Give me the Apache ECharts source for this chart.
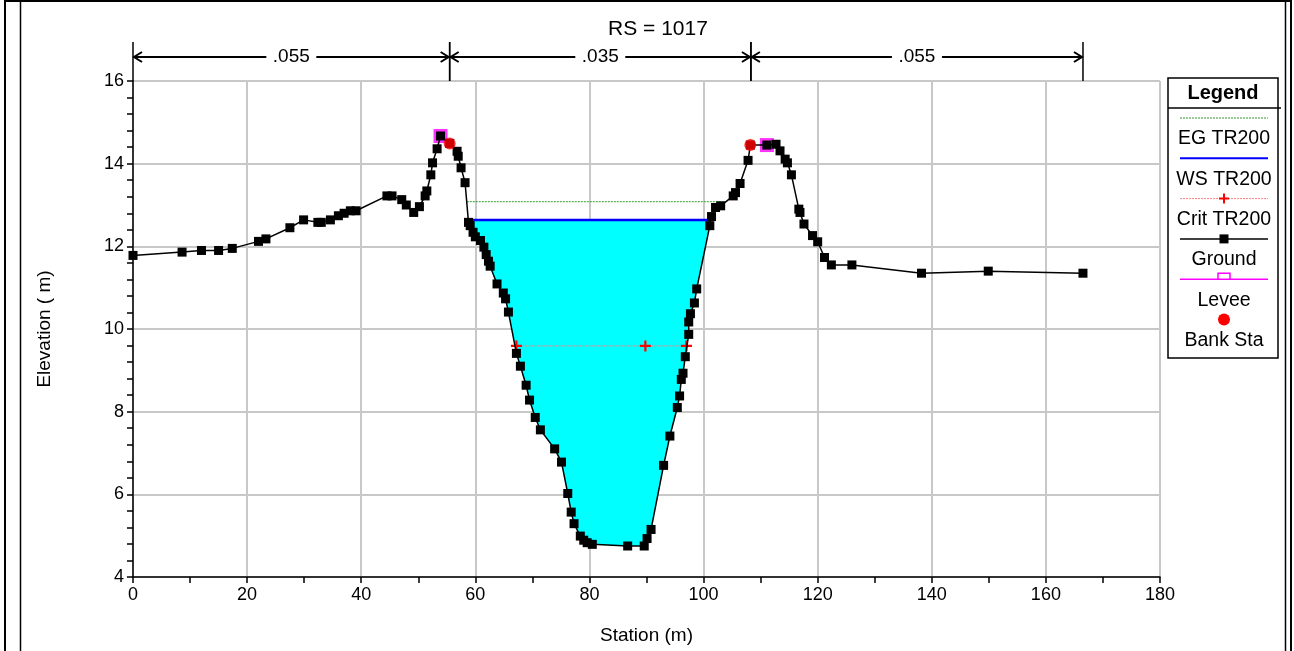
<!DOCTYPE html>
<html>
<head>
<meta charset="utf-8">
<title>RS = 1017</title>
<script src="https://cdn.jsdelivr.net/npm/echarts@6/dist/echarts.min.js"></script>
<style>
html, body { margin: 0; padding: 0; background: #fff; }
#chart { width: 1294px; height: 651px; }
</style>
</head>
<body>
<div id="chart"></div>
<script>
// ground survey (station m, elevation m)
const groundX = [0, 8.6, 12.0, 15.0, 17.4, 22.0, 23.3, 27.5, 29.9, 32.4, 33.0, 34.6, 36.0, 37.0, 38.1, 39.1,
  44.5, 45.4, 47.1, 47.9, 49.2, 50.2, 51.2, 51.5, 52.2, 52.5, 53.3, 53.9, 55.5, 56.8, 57.0, 57.5, 58.2,
  58.8, 59.1, 59.6, 60.0, 60.9, 61.5, 61.9, 62.3, 62.6, 63.8, 64.9, 65.3, 65.8, 67.2, 67.9, 68.9, 69.5,
  70.5, 71.4, 73.9, 75.1, 76.2, 76.8, 77.3, 78.4, 79.0, 79.6, 80.5, 86.7, 89.6, 90.1, 90.8, 93.0, 94.1,
  95.4, 95.8, 96.1, 96.4, 96.8, 97.4, 97.4, 97.7, 98.4, 98.8, 101.1, 101.4, 102.1, 103.0, 105.2, 105.6,
  106.4, 107.8, 108.2, 111.1, 112.7, 113.4, 114.3, 114.7, 115.4, 116.7, 116.9, 117.6, 119.1, 120.0,
  121.2, 122.4, 126.0, 138.2, 149.9, 166.5];
const groundY = [11.78, 11.86, 11.90, 11.90, 11.95, 12.12, 12.18, 12.45, 12.64, 12.58, 12.58, 12.64, 12.74, 12.80, 12.86, 12.86,
  13.22, 13.22, 13.13, 13.00, 12.82, 12.96, 13.22, 13.34, 13.73, 14.02, 14.36, 14.67, 14.49, 14.30, 14.18, 13.90, 13.54,
  12.58, 12.50, 12.34, 12.23, 12.14, 11.98, 11.80, 11.64, 11.52, 11.09, 10.87, 10.73, 10.41, 9.41, 9.10, 8.64, 8.28,
  7.86, 7.56, 7.10, 6.78, 6.02, 5.57, 5.29, 4.99, 4.89, 4.83, 4.79, 4.75, 4.75, 4.93, 5.15, 6.70, 7.41,
  8.10, 8.38, 8.78, 8.93, 9.33, 9.87, 10.17, 10.37, 10.63, 10.97, 12.50, 12.72, 12.94, 12.98, 13.22, 13.30,
  13.52, 14.08, 14.45, 14.45, 14.47, 14.31, 14.11, 14.02, 13.73, 12.90, 12.82, 12.54, 12.26, 12.11,
  11.73, 11.55, 11.55, 11.35, 11.40, 11.35];

const leveeX = [53.9, 111.1];
const leveeY = [14.67, 14.45];
const bankX = [55.5, 108.2];
const bankY = [14.49, 14.45];

const wsElev = 12.64;
const egElev = 13.08;
const egX = [58.5, 103.8];
const critElev = 9.59;
const critX = [67.2, 89.8, 97.0];

// manning n regions
const nBreaks = [0, 55.5, 108.3, 166.5];
const nValues = ['.055', '.035', '.055'];

const FONT = 'Liberation Sans, Arial, sans-serif';
const ground = groundX.map((x, i) => [x, groundY[i]]);

// wetted area of the main channel, between the bank stations
function waterPolygon() {
  const pts = ground.filter(p => p[0] >= bankX[0] && p[0] <= bankX[1]);
  const poly = [];
  for (let i = 1; i < pts.length; i++) {
    const a = pts[i - 1], b = pts[i];
    const aUnder = a[1] < wsElev, bUnder = b[1] < wsElev;
    if (aUnder !== bUnder) {
      const t = (wsElev - a[1]) / (b[1] - a[1]);
      poly.push([a[0] + t * (b[0] - a[0]), wsElev]);
    }
    if (bUnder) poly.push(b);
  }
  return poly;
}
const waterPts = waterPolygon();

const chart = echarts.init(document.getElementById('chart'));

const plusPath = 'path://M4,0H6V4H10V6H6V10H4V6H0V4H4Z';

function axisCommon() {
  return {
    nameLocation: 'middle',
    nameTextStyle: { fontSize: 19, color: '#000', fontFamily: FONT },
    axisLine: { onZero: false, lineStyle: { color: '#000', width: 1.5 } },
    axisTick: { length: 6, lineStyle: { color: '#000', width: 1.5 } },
    axisLabel: { fontSize: 18, color: '#000', fontFamily: FONT, margin: 9 },
    splitLine: { show: true, lineStyle: { color: '#c8c8c8', width: 2 } }
  };
}

// legend box, drawn by hand (symbol above text like the original)
const LX0 = 1168, LX1 = 1278, LCX = 1224;
const legendNames = ['EG TR200', 'WS TR200', 'Crit TR200', 'Ground', 'Levee', 'Bank Sta'];
const legendGraphics = [
  { type: 'rect', shape: { x: LX0, y: 78, width: LX1 - LX0, height: 280 }, style: { fill: '#fff', stroke: '#000', lineWidth: 1.5 } },
  { type: 'text', x: LX0 + (LX1 - LX0) / 2, y: 93, style: { text: 'Legend', font: 'bold 20px ' + FONT, fill: '#000', align: 'center', verticalAlign: 'middle' } },
  { type: 'line', shape: { x1: LX0, y1: 108, x2: LX1 + 3, y2: 108 }, style: { stroke: '#000', lineWidth: 1.5 } }
];
legendNames.forEach((name, i) => {
  const sy = 118 + i * 40.3;
  const seg = (color, w, dash) => ({ type: 'line', shape: { x1: 1180, y1: sy, x2: 1268, y2: sy }, style: { stroke: color, lineWidth: w, lineDash: dash || null } });
  if (i === 0) legendGraphics.push(seg('#339933', 1, [2, 1]));
  if (i === 1) legendGraphics.push(seg('#0000ff', 2));
  if (i === 2) {
    legendGraphics.push(seg('#ff8080', 1, [2, 1]));
    legendGraphics.push({ type: 'polygon', shape: { points: [[LCX - 1, sy - 5], [LCX + 1, sy - 5], [LCX + 1, sy - 1], [LCX + 5, sy - 1], [LCX + 5, sy + 1], [LCX + 1, sy + 1], [LCX + 1, sy + 5], [LCX - 1, sy + 5], [LCX - 1, sy + 1], [LCX - 5, sy + 1], [LCX - 5, sy - 1], [LCX - 1, sy - 1]] }, style: { fill: '#ff0000' } });
  }
  if (i === 3) {
    legendGraphics.push(seg('#000', 1.5));
    legendGraphics.push({ type: 'rect', shape: { x: LCX - 4.5, y: sy - 4.5, width: 9, height: 9 }, style: { fill: '#000' } });
  }
  if (i === 4) {
    legendGraphics.push(seg('#ff00ff', 1.5));
    legendGraphics.push({ type: 'polyline', shape: { points: [[LCX - 6, sy], [LCX - 6, sy - 6], [LCX + 6, sy - 6], [LCX + 6, sy]] }, style: { stroke: '#ff00ff', lineWidth: 1.5, fill: null } });
  }
  if (i === 5) legendGraphics.push({ type: 'circle', shape: { cx: LCX, cy: sy, r: 6 }, style: { fill: '#ff0000' } });
  legendGraphics.push({ type: 'text', x: LCX, y: sy + 21, style: { text: name, font: '19.5px ' + FONT, fill: '#000', align: 'center', verticalAlign: 'middle' } });
});

chart.setOption({
  animation: false,
  backgroundColor: '#fff',
  title: {
    text: 'RS = 1017',
    left: 653,
    textAlign: 'center',
    top: 14,
    textStyle: { fontSize: 21, fontWeight: 'normal', color: '#000', fontFamily: FONT }
  },
  grid: { left: 133, right: 134, top: 81, bottom: 74, outerBoundsMode: 'none' },
  xAxis: Object.assign(axisCommon(), {
    type: 'value', min: 0, max: 180, interval: 20,
    name: 'Station (m)', nameGap: 49,
    minorTick: { show: true, splitNumber: 2, length: 6, lineStyle: { color: '#000', width: 1.5 } }
  }),
  yAxis: Object.assign(axisCommon(), {
    type: 'value', min: 4, max: 16, interval: 2,
    name: 'Elevation ( m)', nameGap: 79,
    minorTick: { show: true, splitNumber: 5, length: 6, lineStyle: { color: '#000', width: 1.5 } }
  }),
  graphic: [
    { type: 'rect', silent: true, shape: { x: 5, y: 1, width: 1286, height: 680 }, style: { fill: null, stroke: '#000', lineWidth: 2 } },
    { type: 'line', silent: true, shape: { x1: 20.5, y1: 1, x2: 20.5, y2: 651 }, style: { stroke: '#000', lineWidth: 1.5 } },
    { type: 'line', silent: true, shape: { x1: 1285.5, y1: 1, x2: 1285.5, y2: 651 }, style: { stroke: '#000', lineWidth: 1.5 } }
  ].concat(legendGraphics),
  series: [
    {
      name: 'water',
      type: 'custom',
      z: 1,
      data: [waterPts[0]],
      renderItem: function (params, api) {
        return {
          type: 'polygon',
          shape: { points: waterPts.map(p => api.coord(p)) },
          style: { fill: '#00ffff' }
        };
      }
    },
    {
      name: 'EG TR200',
      type: 'line',
      z: 3,
      symbol: 'none',
      data: egX.map(x => [x, egElev]),
      lineStyle: { color: '#339933', width: 1, type: [2, 1] }
    },
    {
      name: 'WS TR200',
      type: 'line',
      z: 3,
      symbol: 'none',
      data: [[waterPts[0][0], wsElev], [waterPts[waterPts.length - 1][0], wsElev]],
      lineStyle: { color: '#0000ff', width: 2.5 }
    },
    {
      name: 'Crit TR200',
      type: 'line',
      z: 3,
      symbol: plusPath,
      symbolSize: 11,
      showAllSymbol: true,
      data: critX.map(x => [x, critElev]),
      itemStyle: { color: '#ff0000' },
      lineStyle: { color: '#ff8080', width: 1, type: [2, 1] }
    },
    {
      name: 'Levee',
      type: 'scatter',
      z: 4,
      symbol: 'rect',
      symbolSize: 14,
      data: leveeX.map((x, i) => [x, leveeY[i]]),
      itemStyle: { color: '#ff00ff' }
    },
    {
      name: 'Ground',
      type: 'line',
      z: 5,
      symbol: 'rect',
      symbolSize: 9,
      showAllSymbol: true,
      data: ground,
      itemStyle: { color: '#000' },
      lineStyle: { color: '#000', width: 1.5 }
    },
    {
      name: 'Bank Sta',
      type: 'scatter',
      z: 6,
      symbol: 'circle',
      symbolSize: 12,
      data: bankX.map((x, i) => [x, bankY[i]]),
      itemStyle: { color: '#ff0000' }
    },
    {
      name: 'manning',
      type: 'custom',
      clip: false,
      z: 6,
      data: nValues.map((v, i) => [nBreaks[i], nBreaks[i + 1], i]),
      encode: { x: [0, 1] },
      renderItem: function (params, api) {
        const top = params.coordSys.y;
        const x0 = api.coord([api.value(0), 16])[0];
        const x1 = api.coord([api.value(1), 16])[0];
        const y = top - 24;
        const cx = (x0 + x1) / 2;
        const st = { stroke: '#000', lineWidth: 2, fill: null };
        return {
          type: 'group',
          children: [
            { type: 'line', shape: { x1: x0, y1: y - 15, x2: x0, y2: top }, style: { stroke: '#000', lineWidth: 1.5 } },
            { type: 'line', shape: { x1: x1, y1: y - 15, x2: x1, y2: top }, style: { stroke: '#000', lineWidth: 1.5 } },
            { type: 'line', shape: { x1: x0 + 1, y1: y, x2: cx - 25, y2: y }, style: st },
            { type: 'line', shape: { x1: cx + 25, y1: y, x2: x1 - 1, y2: y }, style: st },
            { type: 'polyline', shape: { points: [[x0 + 9, y - 5], [x0 + 1, y], [x0 + 9, y + 5]] }, style: st },
            { type: 'polyline', shape: { points: [[x1 - 9, y - 5], [x1 - 1, y], [x1 - 9, y + 5]] }, style: st },
            { type: 'text', x: cx, y: y, style: { text: nValues[api.value(2)], font: '19px ' + FONT, fill: '#000', align: 'center', verticalAlign: 'middle' } }
          ]
        };
      }
    }
  ]
});
</script>
</body>
</html>
